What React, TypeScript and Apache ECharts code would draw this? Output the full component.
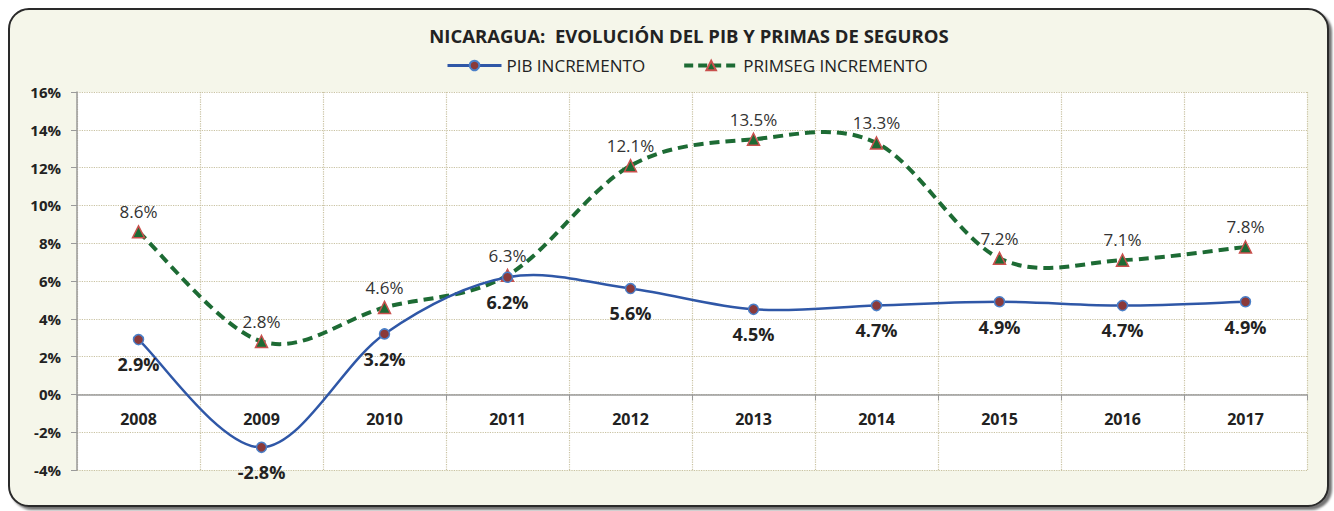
import React, { useEffect, useRef } from "react";
import * as echarts from "echarts";

const years = ["2008", "2009", "2010", "2011", "2012", "2013", "2014", "2015", "2016", "2017"];
const pibIncremento = [2.9, -2.8, 3.2, 6.2, 5.6, 4.5, 4.7, 4.9, 4.7, 4.9];
const primsegIncremento = [8.6, 2.8, 4.6, 6.3, 12.1, 13.5, 13.3, 7.2, 7.1, 7.8];
const titleText = "NICARAGUA:  EVOLUCIÓN DEL PIB Y PRIMAS DE SEGUROS";
const seriesNames = ["PIB INCREMENTO", "PRIMSEG INCREMENTO"];

const FONT = "'Open Sans', 'Noto Sans', sans-serif";
const GRID_COLOR = "#c9c2a2";
const PIB_COLOR = "#2f57a7";
const PRIM_COLOR = "#1d6b34";
const PRIM_DASH = [10, 6];

const Y_MIN = -4;
const Y_MAX = 16;
const GRID_TOP = 92;
const GRID_BOTTOM = 41;
const CHART_H = 511;

// Excel-like (Catmull-Rom) smoothed curve through the data points
function smoothCurve(values: number[], color: string, width: number, dash: any) {
  return (params: any, api: any) => {
    if (params.dataIndex !== 0) return null;
    const pts = values.map((v, i) => api.coord([i, v]));
    const n = pts.length;
    let d = `M${pts[0][0]},${pts[0][1]}`;
    for (let i = 0; i < n - 1; i++) {
      const p0 = pts[Math.max(i - 1, 0)];
      const p1 = pts[i];
      const p2 = pts[i + 1];
      const p3 = pts[Math.min(i + 2, n - 1)];
      const c1x = p1[0] + (p2[0] - p0[0]) / 6;
      const c1y = p1[1] + (p2[1] - p0[1]) / 6;
      const c2x = p2[0] - (p3[0] - p1[0]) / 6;
      const c2y = p2[1] - (p3[1] - p1[1]) / 6;
      d += ` C${c1x},${c1y} ${c2x},${c2y} ${p2[0]},${p2[1]}`;
    }
    return {
      type: "path",
      shape: { pathData: d },
      style: { fill: "none", stroke: color, lineWidth: width, lineDash: dash, lineCap: "butt" },
      silent: true,
    };
  };
}

export default function App() {
  const ref = useRef<HTMLDivElement>(null);
  useEffect(() => {
    if (!ref.current) return;
    const chart = echarts.init(ref.current, null, { renderer: "svg" });
    const plotH = CHART_H - GRID_TOP - GRID_BOTTOM;
    const zeroOffset = -(plotH * (0 - Y_MIN)) / (Y_MAX - Y_MIN);
    chart.setOption({
      animation: false,
      backgroundColor: "#ffffff",
      textStyle: { fontFamily: FONT },
      graphic: [
        {
          type: "rect",
          z: -10,
          silent: true,
          shape: { x: 9, y: 9, width: 1319, height: 497, r: 20 },
          style: {
            fill: "#f5f6ea",
            stroke: "#2a2a2a",
            lineWidth: 2,
            shadowColor: "rgba(0,0,0,0.55)",
            shadowOffsetX: 3,
            shadowOffsetY: 3,
            shadowBlur: 2,
          },
        },
      ],
      title: {
        text: titleText,
        left: 684,
        textAlign: "center",
        top: 21,
        textStyle: { fontFamily: FONT, fontSize: 18.5, fontWeight: "bold", color: "#222" },
      },
      legend: {
        top: 52,
        left: 441,
        itemWidth: 54,
        itemHeight: 12,
        itemGap: 37,
        textStyle: { fontFamily: FONT, fontSize: 17, color: "#222" },
        data: [
          { name: seriesNames[0], lineStyle: { color: PIB_COLOR, width: 3, opacity: 1 } },
          {
            name: seriesNames[1],
            lineStyle: { color: PRIM_COLOR, width: 4, opacity: 1, type: [9, 5] },
          },
        ],
      },
      grid: {
        left: 77,
        right: 27,
        top: GRID_TOP,
        bottom: GRID_BOTTOM,
        show: true,
        backgroundColor: "#ffffff",
        borderWidth: 0,
      },
      xAxis: {
        type: "category",
        data: years,
        boundaryGap: true,
        position: "bottom",
        offset: zeroOffset,
        axisLine: { show: true, onZero: false, lineStyle: { color: "#9a9a9a", width: 1.5 } },
        axisTick: { show: true, length: 6, lineStyle: { color: "#9a9a9a" } },
        axisLabel: {
          margin: 17,
          fontFamily: FONT,
          fontSize: 16,
          fontWeight: "bold",
          color: "#222",
        },
        splitLine: { show: true, lineStyle: { color: GRID_COLOR, type: "dotted", width: 1.2 } },
      },
      yAxis: {
        type: "value",
        min: Y_MIN,
        max: Y_MAX,
        interval: 2,
        axisLine: { show: true, lineStyle: { color: "#9a9a9a", width: 1.5 } },
        axisTick: { show: true, length: 6, lineStyle: { color: "#9a9a9a" } },
        axisLabel: {
          formatter: "{value}%",
          margin: 16,
          fontFamily: FONT,
          fontSize: 15,
          fontWeight: "bold",
          color: "#222",
        },
        splitLine: { show: true, lineStyle: { color: GRID_COLOR, type: "dotted", width: 1.2 } },
      },
      series: [
        {
          name: "pib-curve",
          type: "custom",
          data: pibIncremento.map((v, i) => [i, v]),
          renderItem: smoothCurve(pibIncremento, PIB_COLOR, 2.5, null),
          z: 3,
        },
        {
          name: "prim-curve",
          type: "custom",
          data: primsegIncremento.map((v, i) => [i, v]),
          renderItem: smoothCurve(primsegIncremento, PRIM_COLOR, 4, PRIM_DASH),
          z: 2,
        },
        {
          name: seriesNames[0],
          type: "line",
          data: pibIncremento,
          symbol: "circle",
          symbolSize: 10,
          lineStyle: { color: PIB_COLOR, width: 2.5, opacity: 0 },
          itemStyle: { color: "#8b3a3a", borderColor: "#4a7fc8", borderWidth: 1.5 },
          label: {
            show: true,
            position: "bottom",
            distance: 10,
            formatter: (p: any) => p.value.toFixed(1) + "%",
            fontFamily: FONT,
            fontSize: 18,
            fontWeight: "bold",
            color: "#222",
          },
          z: 5,
        },
        {
          name: seriesNames[1],
          type: "line",
          data: primsegIncremento,
          symbol: "triangle",
          symbolSize: 12,
          lineStyle: { color: PRIM_COLOR, width: 4, opacity: 0 },
          itemStyle: { color: PRIM_COLOR, borderColor: "#c9504d", borderWidth: 1.5 },
          label: {
            show: true,
            position: "top",
            distance: 5,
            formatter: (p: any) => p.value.toFixed(1) + "%",
            fontFamily: FONT,
            fontSize: 17,
            color: "#333",
          },
          z: 4,
        },
      ],
    });
    return () => chart.dispose();
  }, []);
  return (
    <div
      ref={ref}
      style={{ position: "fixed", left: 0, top: 0, width: 1334, height: 511 }}
    />
  );
}
